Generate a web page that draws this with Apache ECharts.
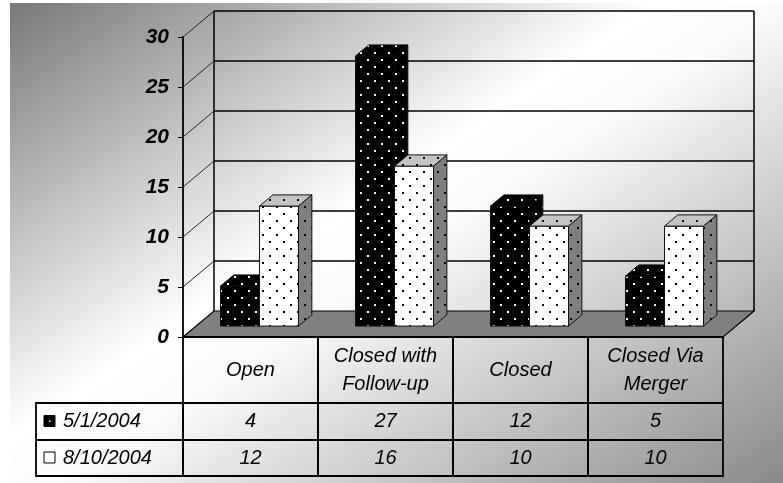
<!DOCTYPE html>
<html>
<head>
<meta charset="utf-8">
<script src="https://cdn.jsdelivr.net/npm/echarts@6/dist/echarts.min.js"></script>
<style>
html, body { margin: 0; padding: 0; background: #fff; }
#chart { width: 783px; height: 483px; }
</style>
</head>
<body>
<div id="chart"></div>
<script>
// data
const categories = ['Open', 'Closed with\nFollow-up', 'Closed', 'Closed Via\nMerger'];
const seriesNames = ['5/1/2004', '8/10/2004'];
const may2004 = [4, 27, 12, 5];
const aug2004 = [12, 16, 10, 10];
const yTicks = [0, 5, 10, 15, 20, 25, 30];

// 3d look
const DX = 31, DY = -26;        // depth of the box (front plane -> back wall)
const T1 = 0.42, T2 = 0.85;     // bar front / back depth
const FONT = '"Liberation Sans", Arial, sans-serif';

// dotted fills
function dots(bg, dot) {
  const c = document.createElement('canvas');
  c.width = 14; c.height = 14;
  const g = c.getContext('2d');
  g.fillStyle = bg;
  g.fillRect(0, 0, 14, 14);
  g.fillStyle = dot;
  g.fillRect(3, 3, 2, 2);
  g.fillRect(10, 10, 2, 2);
  return { image: c, repeat: 'repeat' };
}
const blackFill = dots('#000', '#fff');
const whiteFill = dots('#fff', '#000');
const whiteTop = dots('#c4c4c4', '#000');
const whiteSide = dots('#7f7f7f', '#000');

const faces = [
  { front: blackFill, top: blackFill, side: blackFill },
  { front: whiteFill, top: whiteTop, side: whiteSide }
];

const P = (x, y, t) => [x + DX * t, y + DY * t];

// back wall, left wall slants and floor
function renderWall(params, api) {
  const cs = params.coordSys;
  const v = api.value(0);
  const y = api.coord([0, v])[1];
  const left = cs.x, right = cs.x + cs.width;
  const line = { stroke: '#000', lineWidth: 1.5 };
  const children = [];
  if (params.dataIndex === 0) {
    const top = api.coord([0, yTicks[yTicks.length - 1]])[1];
    children.push({
      type: 'line', shape: { x1: left + DX, y1: y + DY, x2: left + DX, y2: top + DY }, style: line
    });
    children.push({
      type: 'line', shape: { x1: right + DX, y1: y + DY, x2: right + DX, y2: top + DY }, style: line
    });
    children.push({
      type: 'polygon',
      shape: { points: [[left, y], [left + DX, y + DY], [right + DX, y + DY], [right, y]] },
      style: { fill: '#808080', stroke: '#000', lineWidth: 1.2 }
    });
  } else {
    children.push({
      type: 'line', shape: { x1: left + DX, y1: y + DY, x2: right + DX, y2: y + DY }, style: line
    });
    children.push({
      type: 'line', shape: { x1: left, y1: y, x2: left + DX, y2: y + DY },
      style: { stroke: '#222', lineWidth: 1 }
    });
  }
  return { type: 'group', children: children };
}

function makeBar(s) {
  return function (params, api) {
    const cat = api.value(0), val = api.value(1);
    const top = api.coord([cat, val]);
    const base = api.coord([cat, 0]);
    const w = api.size([1, 0])[0] * 0.289;
    const xL = top[0] - 4 - w + s * w, xR = xL + w;
    const yT = top[1], yB = base[1];
    const st = { stroke: '#111', lineWidth: 1 };
    const f = faces[s];
    return {
      type: 'group',
      children: [
        { type: 'polygon', shape: { points: [P(xL, yT, T1), P(xR, yT, T1), P(xR, yB, T1), P(xL, yB, T1)] },
          style: Object.assign({ fill: f.front }, st) },
        { type: 'polygon', shape: { points: [P(xL, yT, T1), P(xR, yT, T1), P(xR, yT, T2), P(xL, yT, T2)] },
          style: Object.assign({ fill: f.top }, st) },
        { type: 'polygon', shape: { points: [P(xR, yT, T1), P(xR, yT, T2), P(xR, yB, T2), P(xR, yB, T1)] },
          style: Object.assign({ fill: f.side }, st) }
      ]
    };
  };
}

function txt(text, x, y, align) {
  return {
    type: 'text',
    style: {
      text: text, x: x, y: y, align: align || 'center', verticalAlign: 'middle',
      fontSize: 20, fontStyle: 'italic', fontFamily: FONT, fill: '#000', lineHeight: 28
    }
  };
}

// data table under the plot
function renderTable(params, api) {
  const cs = params.coordSys;
  const i = params.dataIndex;
  const cx = api.coord([i, 0])[0];
  const bw = api.size([1, 0])[0];
  const y0 = cs.y + cs.height;
  const rows = [y0, y0 + 66, y0 + 103, y0 + 139];
  const border = { fill: 'none', stroke: '#000', lineWidth: 1.8 };
  const children = [];
  for (let r = 0; r < 3; r++) {
    children.push({
      type: 'rect',
      shape: { x: cx - bw / 2, y: rows[r], width: bw, height: rows[r + 1] - rows[r] },
      style: border
    });
  }
  children.push(txt(categories[i], cx, (rows[0] + rows[1]) / 2));
  children.push(txt(String(api.value(1)), cx, (rows[1] + rows[2]) / 2));
  children.push(txt(String(api.value(2)), cx, (rows[2] + rows[3]) / 2));
  if (i === 0) {
    const lx = cs.x - 147;
    for (let r = 1; r < 3; r++) {
      const my = (rows[r] + rows[r + 1]) / 2;
      children.push({
        type: 'rect', shape: { x: lx, y: rows[r], width: cs.x - lx, height: rows[r + 1] - rows[r] },
        style: border
      });
      children.push({
        type: 'rect', shape: { x: lx + 8, y: my - 6, width: 11, height: 11 },
        style: { fill: r === 1 ? '#000' : '#fff', stroke: '#000', lineWidth: 1 }
      });
      if (r === 1) {
        children.push({ type: 'rect', shape: { x: lx + 13, y: my - 1, width: 1.5, height: 1.5 }, style: { fill: '#fff' } });
      }
      children.push(txt(seriesNames[r - 1], lx + 27, my, 'left'));
    }
  }
  return { type: 'group', children: children };
}

const chart = echarts.init(document.getElementById('chart'));

const option = {
  animation: false,
  backgroundColor: '#fff',
  graphic: [{
    type: 'rect',
    z: -10,
    silent: true,
    shape: { x: 10, y: 3, width: 773, height: 480 },
    style: {
      fill: new echarts.graphic.LinearGradient(0, 0, 466, 695, [
        { offset: 0, color: '#767676' },
        { offset: 0.44, color: '#ffffff' },
        { offset: 0.52, color: '#fbfbfb' },
        { offset: 1, color: '#8a8a8a' }
      ], true)
    }
  }],
  grid: { left: 183, right: 60, top: 37, bottom: 146, containLabel: false },
  xAxis: {
    type: 'category',
    data: categories,
    axisLine: { show: false },
    axisTick: { show: false },
    axisLabel: { show: false },
    splitLine: { show: false }
  },
  yAxis: {
    type: 'value',
    min: 0,
    max: 30,
    interval: 5,
    axisLine: { show: true, lineStyle: { color: '#000', width: 1.8 } },
    axisTick: { show: true, length: 5, lineStyle: { color: '#000', width: 1 } },
    axisLabel: {
      color: '#000', fontSize: 21, fontWeight: 'bold', fontStyle: 'italic',
      fontFamily: FONT, margin: 14
    },
    splitLine: { show: false }
  },
  series: [
    {
      type: 'custom', name: 'wall', silent: true, clip: false, z: 1,
      renderItem: renderWall,
      encode: { x: 0, y: 0 },
      data: yTicks.map(v => [v])
    },
    {
      type: 'custom', name: seriesNames[0], clip: false, z: 3,
      renderItem: makeBar(0),
      encode: { x: 0, y: 1 },
      data: may2004.map((v, i) => [i, v])
    },
    {
      type: 'custom', name: seriesNames[1], clip: false, z: 3,
      renderItem: makeBar(1),
      encode: { x: 0, y: 1 },
      data: aug2004.map((v, i) => [i, v])
    },
    {
      type: 'custom', name: 'table', silent: true, clip: false, z: 3,
      renderItem: renderTable,
      encode: { x: 0, y: 1 },
      data: categories.map((c, i) => [i, may2004[i], aug2004[i]])
    }
  ]
};

chart.setOption(option);
</script>
</body>
</html>
